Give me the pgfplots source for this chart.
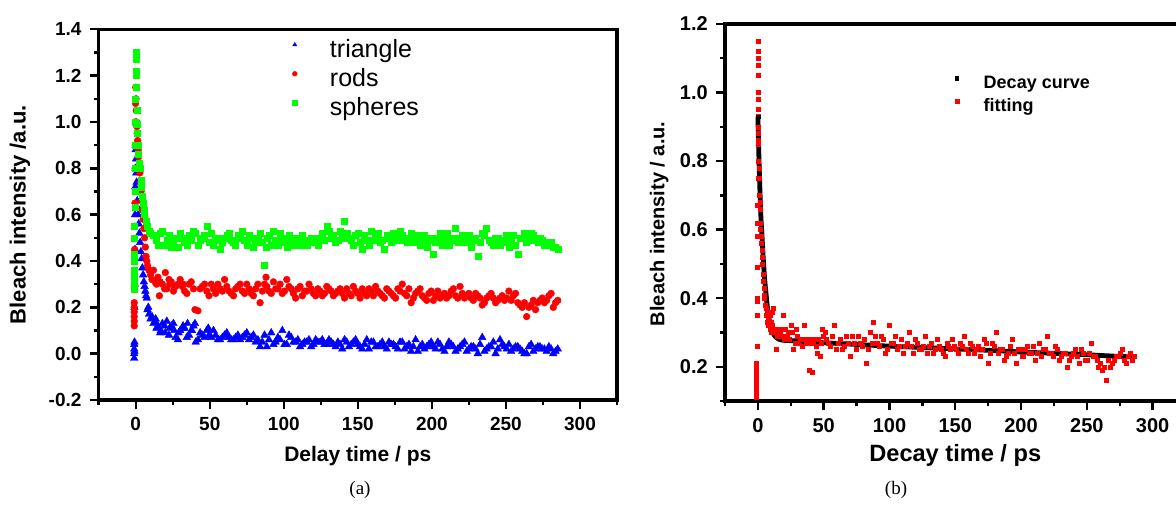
\documentclass[border=0pt]{standalone}
\usepackage{fontspec}
\setmainfont{Liberation Sans}
\newfontfamily\capfont{Liberation Serif}
\usepackage{pgfplots}
\pgfplotsset{compat=1.18}
\definecolor{pblue}{RGB}{0,0,255}
\definecolor{pred}{RGB}{255,0,0}
\definecolor{pgreen}{RGB}{0,255,0}

\pgfplotsset{
  every axis/.append style={line width=1.6pt},
  dots/.style={only marks, line width=0.2pt},
  panel/.style={
    scale only axis,
    anchor=south west,
    axis line style={line width=1.6pt},
    tick style={line width=1.2pt, black},
    tick align=outside,
    xtick pos=bottom, ytick pos=left,
    major tick length=4.5pt, minor tick length=2.5pt,
    xmin=-25, xmax=325,
    xtick={0,50,...,300},
    minor xtick={-25,25,75,...,325},
    /pgf/number format/assume math mode=true,
    yticklabel style={/pgf/number format/.cd, fixed, fixed zerofill, precision=1},
    legend cell align=left,
  },
}

\begin{document}
\begin{tikzpicture}
% ---------- (a) ----------
\begin{axis}[panel,
  at={(49.35pt,52pt)}, width=259.15pt, height=185.35pt,
  ymin=-0.2, ymax=1.4,
  ytick={-0.2,0,...,1.4},
  minor ytick={-0.1,0.1,...,1.3},
  ticklabel style={font=\bfseries\fontsize{9.5}{11}\selectfont},
  xlabel={Delay time / ps},
  ylabel={Bleach intensity /a.u.},
  xlabel style={at={(axis description cs:0.5,-0.151)}, anchor=center, font=\bfseries\fontsize{10.5}{12}\selectfont},
  ylabel style={at={(axis description cs:-0.152,0.5)}, anchor=center, font=\bfseries\fontsize{11}{12}\selectfont},
  legend style={draw=none, fill=none, at={(axis cs:103.5,1.364)}, anchor=north west,
    inner sep=0pt, column sep=0pt, row sep=3pt,
    nodes={inner sep=0pt, text height=9pt, text depth=2.5pt},
    font=\fontsize{12.5}{14}\selectfont},
  legend image code/.code={\draw[#1, mark size=1.2pt] plot coordinates {(0pt,3pt)}; \path (-2pt,0pt) (17.5pt,0pt);},
]
\addplot[dots, mark=triangle*, mark size=2.2pt, color=pblue] coordinates {
(-1,-0.02) (-1,0.0) (-1,0.02) (-1,0.04) (-0.8,0.05) (-0.8,0.01) (-0.9,0.2) (-0.7,0.3) (-0.5,0.45) (-0.4,0.6)
(-0.3,0.72) (-0.2,0.8) (-0.1,0.88) (0,0.9) (0.2,0.84) (0.4,0.78) (0.6,0.74) (0.8,0.7) (1,0.66) (1.3,0.63)
(1.6,0.6) (2,0.56) (2.5,0.52) (3,0.48) (3.5,0.44) (4,0.41) (4.5,0.37) (5,0.34) (5.5,0.31) (6,0.29)
(6.5,0.27) (7,0.25) (7.5,0.24) (8,0.19) (8.5,0.2) (9,0.17) (10,0.15) (11,0.16) (12,0.13) (13,0.14)
(14,0.11) (15,0.12) (17,0.10) (18,0.13) (20,0.09) (21,0.14) (23,0.11) (24,0.12) (26,0.10) (27,0.07)
(29,0.09) (30,0.10) (32,0.12) (33,0.11) (35,0.13) (36,0.08) (38,0.10) (39,0.12) (40,0.13) (42,0.06)
(45,0.08) (48,0.10) (49,0.11) (51,0.07) (54,0.08) (57,0.06) (60,0.08) (63,0.07) (66,0.06) (69,0.08)
(72,0.07) (75,0.09) (78,0.07) (81,0.05) (84,0.03) (87,0.08) (90,0.06) (93,0.04) (96,0.07) (99,0.10)
(102,0.04) (105,0.07) (108,0.05) (111,0.03) (114,0.05) (117,0.06) (120,0.04) (123,0.05) (126,0.06) (129,0.04)
(132,0.05) (135,0.03) (138,0.04) (141,0.06) (144,0.03) (147,0.05) (150,0.04) (153,0.02) (156,0.06) (159,0.05)
(162,0.03) (165,0.04) (168,0.03) (171,0.05) (174,0.04) (177,0.02) (180,0.05) (183,0.03) (186,0.01) (189,0.06)
(192,0.03) (195,0.02) (198,0.04) (201,0.03) (204,0.05) (207,0.02) (210,0.03) (213,0.04) (216,0.01) (219,0.03)
(222,0.05) (225,0.02) (228,0.03) (231,0.00) (234,0.07) (237,0.02) (240,0.03) (243,0.00) (246,0.06) (249,0.03)
(252,0.04) (255,0.02) (258,0.03) (261,0.01) (264,0.00) (267,0.04) (270,0.02) (273,0.03) (276,0.02) (279,0.03)
(282,0.00) (285,0.02)
(13.5,0.15) (16.5,0.09) (19.5,0.12) (22.5,0.08) (25.5,0.13) (28.5,0.06) (31.5,0.11) (34.5,0.07) (37.5,0.10) (40.5,0.05)
(43.5,0.09) (46.5,0.07) (49.5,0.08) (52.5,0.10) (55.5,0.06) (58.5,0.07) (61.5,0.09) (64.5,0.06) (67.5,0.07) (70.5,0.06)
(73.5,0.08) (76.5,0.06) (79.5,0.08) (82.5,0.06) (85.5,0.05) (88.5,0.03) (91.5,0.09) (94.5,0.05) (97.5,0.06) (100.5,0.04)
(103.5,0.08) (106.5,0.05) (109.5,0.06) (112.5,0.04) (115.5,0.05) (118.5,0.03) (121.5,0.06) (124.5,0.05) (127.5,0.04) (130.5,0.06)
(133.5,0.04) (136.5,0.05) (139.5,0.02) (142.5,0.05) (145.5,0.04) (148.5,0.06) (151.5,0.03) (154.5,0.04) (157.5,0.02) (160.5,0.05)
(163.5,0.03) (166.5,0.05) (169.5,0.02) (172.5,0.04) (175.5,0.03) (178.5,0.05) (181.5,0.02) (184.5,0.04) (187.5,0.03) (190.5,0.01)
(193.5,0.04) (196.5,0.03) (199.5,0.05) (202.5,0.02) (205.5,0.04) (208.5,0.01) (211.5,0.05) (214.5,0.03) (217.5,0.02) (220.5,0.04)
(223.5,0.01) (226.5,0.03) (229.5,0.02) (232.5,0.04) (235.5,0.01) (238.5,0.03) (241.5,0.05) (244.5,0.02) (247.5,0.04) (250.5,0.02)
(253.5,0.01) (256.5,0.03) (259.5,0.02) (262.5,0.00) (265.5,0.03) (268.5,0.01) (271.5,0.03) (274.5,0.02) (277.5,0.01) (280.5,0.02)
(283.5,0.01)
};
\addlegendentry{triangle}
\addplot[dots, mark=*, mark size=1.7pt, color=pred] coordinates {
(-1,0.12) (-1,0.14) (-1,0.16) (-1,0.18) (-1,0.20) (-1,0.22) (-0.8,0.30) (-0.7,0.45) (-0.6,0.55) (-0.5,0.65)
(-0.4,0.80) (-0.3,0.90) (-0.2,1.00) (-0.1,1.08) (0,1.15) (0.2,1.10) (0.4,1.05) (0.6,1.00) (0.8,0.98) (1,0.95)
(1.3,0.92) (1.6,0.88) (2,0.85) (2.4,0.80) (2.8,0.78) (3.2,0.74) (3.6,0.70) (4,0.66) (4.5,0.62) (5,0.58)
(5.5,0.54) (6,0.50) (6.5,0.46) (7,0.42) (7.5,0.40) (8,0.38) (9,0.36) (10,0.34) (11,0.32) (12,0.36)
(13,0.31) (14,0.30) (15,0.33) (16,0.25) (18,0.30) (20,0.35) (21,0.28) (23,0.30) (24,0.31) (26,0.29)
(27,0.29) (30,0.32) (32,0.30) (33,0.27) (36,0.30) (39,0.28) (40,0.19) (42,0.185) (45,0.29) (48,0.27)
(51,0.30) (54,0.26) (57,0.28) (60,0.32) (63,0.27) (66,0.25) (69,0.29) (72,0.27) (75,0.30) (78,0.26)
(81,0.28) (84,0.22) (87,0.30) (88,0.33) (90,0.27) (93,0.31) (96,0.28) (99,0.26) (102,0.32) (105,0.28)
(108,0.24) (111,0.29) (114,0.27) (117,0.30) (120,0.26) (123,0.28) (126,0.25) (129,0.29) (132,0.27) (135,0.26)
(138,0.28) (141,0.24) (144,0.26) (147,0.29) (150,0.26) (153,0.28) (156,0.25) (159,0.27) (162,0.29) (165,0.26)
(168,0.24) (171,0.27) (174,0.25) (177,0.28) (180,0.30) (183,0.25) (186,0.22) (189,0.26) (192,0.28) (195,0.24)
(198,0.26) (201,0.23) (204,0.27) (207,0.25) (210,0.24) (213,0.27) (216,0.25) (219,0.29) (222,0.24) (225,0.26)
(228,0.23) (231,0.25) (234,0.21) (237,0.24) (240,0.26) (243,0.22) (246,0.24) (249,0.23) (252,0.27) (255,0.25)
(258,0.22) (261,0.20) (264,0.16) (267,0.21) (270,0.19) (273,0.23) (276,0.22) (279,0.25) (282,0.20) (285,0.23)
(16.5,0.31) (19.5,0.28) (22.5,0.32) (25.5,0.27) (28.5,0.30) (31.5,0.29) (34.5,0.26) (37.5,0.31) (43.5,0.28) (46.5,0.30)
(49.5,0.25) (52.5,0.28) (55.5,0.30) (58.5,0.27) (61.5,0.29) (64.5,0.26) (67.5,0.28) (70.5,0.30) (73.5,0.26) (76.5,0.28)
(79.5,0.25) (82.5,0.30) (85.5,0.27) (88.5,0.29) (91.5,0.26) (94.5,0.28) (97.5,0.30) (100.5,0.27) (103.5,0.29) (106.5,0.26)
(109.5,0.28) (112.5,0.25) (115.5,0.27) (118.5,0.28) (121.5,0.25) (124.5,0.27) (127.5,0.26) (130.5,0.28) (133.5,0.25) (136.5,0.27)
(139.5,0.26) (142.5,0.28) (145.5,0.25) (148.5,0.27) (151.5,0.24) (154.5,0.26) (157.5,0.28) (160.5,0.25) (163.5,0.27) (166.5,0.25)
(169.5,0.28) (172.5,0.26) (175.5,0.24) (178.5,0.27) (181.5,0.26) (184.5,0.28) (187.5,0.24) (190.5,0.27) (193.5,0.25) (196.5,0.23)
(199.5,0.27) (202.5,0.25) (205.5,0.24) (208.5,0.26) (211.5,0.25) (214.5,0.28) (217.5,0.24) (220.5,0.26) (223.5,0.25) (226.5,0.24)
(229.5,0.26) (232.5,0.24) (235.5,0.22) (238.5,0.25) (241.5,0.24) (244.5,0.23) (247.5,0.25) (250.5,0.24) (253.5,0.23) (256.5,0.26)
(259.5,0.21) (262.5,0.22) (265.5,0.20) (268.5,0.23) (271.5,0.22) (274.5,0.24) (277.5,0.23) (280.5,0.26) (283.5,0.22)
};
\addlegendentry{rods}
\addplot[dots, mark=square*, mark size=1.5pt, color=pgreen] coordinates {
(-1,0.28) (-1,0.30) (-1,0.33) (-1,0.36) (-1,0.40) (-1,0.43) (-0.8,0.50) (-0.7,0.55) (-0.6,0.63) (-0.5,0.70)
(-0.4,0.80) (-0.3,0.90) (-0.2,1.00) (-0.1,1.10) (0,1.20) (0.1,1.30) (0.2,1.27) (0.3,1.22) (0.5,1.15) (0.7,1.05)
(1,0.99) (1.3,0.95) (1.6,0.90) (2,0.86) (2.5,0.82) (3,0.80) (3.5,0.75) (4,0.72) (4.5,0.68) (5,0.65)
(5.5,0.62) (6,0.60) (7,0.57) (8,0.55) (9,0.53) (10,0.52) (12,0.51) (15,0.47) (18,0.53) (21,0.49)
(24,0.46) (27,0.50) (30,0.52) (33,0.48) (36,0.51) (39,0.53) (42,0.47) (45,0.50) (48,0.55) (51,0.52)
(54,0.49) (57,0.45) (60,0.50) (63,0.52) (66,0.48) (69,0.51) (72,0.53) (75,0.47) (78,0.50) (81,0.48)
(84,0.52) (87,0.38) (88,0.46) (90,0.51) (93,0.53) (96,0.47) (99,0.50) (102,0.46) (105,0.48) (108,0.50)
(111,0.47) (114,0.49) (117,0.48) (120,0.50) (123,0.47) (126,0.52) (129,0.55) (132,0.50) (135,0.48) (138,0.53)
(141,0.57) (144,0.50) (147,0.47) (150,0.52) (153,0.45) (156,0.49) (159,0.53) (162,0.51) (165,0.48) (168,0.45)
(171,0.50) (174,0.52) (177,0.49) (180,0.51) (183,0.48) (186,0.52) (189,0.50) (192,0.47) (195,0.51) (198,0.49)
(201,0.43) (204,0.50) (207,0.47) (210,0.52) (213,0.49) (216,0.54) (219,0.50) (222,0.48) (225,0.51) (228,0.49)
(231,0.42) (234,0.52) (237,0.54) (240,0.48) (243,0.50) (246,0.47) (249,0.49) (252,0.46) (255,0.51) (258,0.43)
(261,0.50) (264,0.48) (267,0.52) (270,0.49) (273,0.50) (276,0.47) (279,0.48) (282,0.46) (285,0.45)
(13.5,0.49) (16.5,0.52) (19.5,0.47) (22.5,0.51) (25.5,0.49) (28.5,0.46) (31.5,0.50) (34.5,0.47) (37.5,0.49) (40.5,0.52)
(43.5,0.49) (46.5,0.51) (49.5,0.48) (52.5,0.47) (55.5,0.50) (58.5,0.48) (61.5,0.51) (64.5,0.49) (67.5,0.47) (70.5,0.50)
(73.5,0.49) (76.5,0.51) (79.5,0.46) (82.5,0.50) (85.5,0.48) (88.5,0.50) (91.5,0.47) (94.5,0.49) (97.5,0.52) (100.5,0.48)
(103.5,0.51) (106.5,0.47) (109.5,0.49) (112.5,0.51) (115.5,0.47) (118.5,0.50) (121.5,0.48) (124.5,0.50) (127.5,0.49) (130.5,0.53)
(133.5,0.51) (136.5,0.49) (139.5,0.50) (142.5,0.52) (145.5,0.49) (148.5,0.51) (151.5,0.48) (154.5,0.51) (157.5,0.47) (160.5,0.49)
(163.5,0.52) (166.5,0.49) (169.5,0.51) (172.5,0.48) (175.5,0.50) (178.5,0.53) (181.5,0.49) (184.5,0.50) (187.5,0.48) (190.5,0.51)
(193.5,0.49) (196.5,0.46) (199.5,0.50) (202.5,0.48) (205.5,0.52) (208.5,0.49) (211.5,0.47) (214.5,0.50) (217.5,0.48) (220.5,0.51)
(223.5,0.49) (226.5,0.46) (229.5,0.50) (232.5,0.48) (235.5,0.51) (238.5,0.49) (241.5,0.47) (244.5,0.50) (247.5,0.48) (250.5,0.51)
(253.5,0.49) (256.5,0.47) (259.5,0.50) (262.5,0.52) (265.5,0.49) (268.5,0.51) (271.5,0.48) (274.5,0.49) (277.5,0.47) (280.5,0.48)
(283.5,0.46)
};
\addlegendentry{spheres}
\end{axis}
% ---------- (b) ----------
\begin{axis}[panel,
  at={(362.5pt,51.5pt)}, width=230.25pt, height=188.5pt,
  ymin=0.1, ymax=1.2,
  ytick={0.2,0.4,...,1.2},
  minor ytick={0.1,0.3,...,1.1},
  ticklabel style={font=\bfseries\fontsize{10}{12}\selectfont},
  xlabel={Decay time / ps},
  ylabel={Bleach intensity / a.u.},
  xlabel style={at={(axis description cs:0.5,-0.143)}, anchor=center, font=\bfseries\fontsize{11.8}{13}\selectfont},
  ylabel style={at={(axis description cs:-0.143,0.47)}, anchor=center, font=\bfseries\fontsize{10}{12}\selectfont},
  reverse legend,
  legend style={draw=none, fill=none, at={(axis cs:145.8,1.058)}, anchor=north west,
    inner sep=0pt, column sep=0pt, row sep=2.5pt,
    nodes={inner sep=0pt, text height=7pt, text depth=2pt},
    font=\bfseries\fontsize{9}{11}\selectfont},
  legend image code/.code={\draw[#1] plot coordinates {(0pt,2.5pt)}; \path (-1.5pt,0pt) (12.3pt,0pt);},
]
\addplot[dots, mark=square*, mark size=1pt, color=pred] coordinates {
(-1,0.11) (-1,0.12) (-1,0.13) (-1,0.14) (-1,0.15) (-1,0.16) (-1,0.17) (-1,0.18) (-1,0.19) (-1,0.20)
(-1,0.21) (-0.5,0.26) (-0.5,0.35) (-0.5,0.39) (-0.5,0.40) (-0.5,0.49) (-0.5,0.58) (-0.5,0.62) (-0.5,0.67) (0,0.75)
(0,0.80) (0,0.85) (0,0.90) (0,0.95) (0,1.00) (0,1.05) (0,1.08) (0,1.10) (0,1.12) (0,1.15)
(0.3,0.98) (0.3,0.93) (0.3,0.88) (0.3,0.86) (0.8,0.78) (0.8,0.75) (0.8,0.70) (1.5,0.68) (1.5,0.66) (2,0.62)
(2,0.60) (2.5,0.58) (2.5,0.56) (3,0.54) (3,0.52) (3.5,0.50) (4,0.47) (4,0.45) (4.5,0.43) (5,0.41)
(5,0.40) (5.5,0.38) (6,0.37) (6,0.35) (7,0.36) (7,0.33) (8,0.34) (8,0.32) (9,0.35) (9,0.31)
(10,0.33) (10,0.30) (11,0.36) (11,0.32) (12,0.31) (12,0.37) (13,0.30) (14,0.25) (15,0.31) (15,0.29)
(17,0.30) (19,0.35) (19,0.29) (21,0.31) (23,0.30) (25,0.32) (27,0.25) (29,0.31) (31,0.27) (33,0.28)
(35,0.32) (37,0.27) (39,0.19) (41,0.185) (43,0.28) (45,0.24) (47,0.23) (49,0.31) (51,0.30) (52,0.28)
(55,0.26) (58,0.32) (61,0.27) (64,0.25) (67,0.29) (70,0.23) (73,0.27) (76,0.29) (79,0.26) (82,0.21)
(85,0.30) (88,0.33) (91,0.27) (94,0.29) (97,0.24) (100,0.32) (103,0.27) (106,0.25) (109,0.28) (112,0.26)
(115,0.30) (118,0.24) (121,0.27) (124,0.25) (127,0.29) (130,0.26) (133,0.24) (136,0.28) (139,0.25) (142,0.23)
(145,0.26) (148,0.28) (151,0.25) (154,0.27) (157,0.29) (160,0.24) (163,0.26) (166,0.25) (169,0.23) (172,0.28)
(175,0.21) (178,0.27) (181,0.30) (184,0.25) (187,0.22) (190,0.24) (193,0.28) (196,0.21) (199,0.25) (202,0.23)
(205,0.26) (208,0.24) (211,0.22) (214,0.27) (217,0.25) (220,0.29) (223,0.24) (226,0.26) (229,0.22) (232,0.24)
(235,0.20) (238,0.23) (241,0.25) (244,0.21) (247,0.24) (250,0.22) (253,0.27) (256,0.23) (259,0.20) (262,0.19)
(265,0.16) (268,0.20) (271,0.22) (274,0.23) (277,0.25) (280,0.21) (283,0.24) (286,0.23)
(16,0.29) (18,0.31) (20,0.28) (22,0.29) (24,0.28) (26,0.30) (28,0.27) (30,0.29) (32,0.28) (34,0.26)
(36,0.28) (38,0.27) (40,0.28) (42,0.27) (44,0.26) (46,0.28) (48,0.27) (50,0.29)
(53.5,0.27) (56.5,0.29) (59.5,0.25) (62.5,0.28) (65.5,0.26) (68.5,0.27) (71.5,0.29) (74.5,0.25) (77.5,0.27) (80.5,0.28)
(83.5,0.25) (86.5,0.27) (89.5,0.29) (92.5,0.26) (95.5,0.28) (98.5,0.25) (101.5,0.27) (104.5,0.29) (107.5,0.26) (110.5,0.24)
(113.5,0.27) (116.5,0.26) (119.5,0.28) (122.5,0.25) (125.5,0.26) (128.5,0.24) (131.5,0.27) (134.5,0.25) (137.5,0.26) (140.5,0.24)
(143.5,0.27) (146.5,0.25) (149.5,0.26) (152.5,0.24) (155.5,0.26) (158.5,0.25) (161.5,0.27) (164.5,0.24) (167.5,0.26) (170.5,0.25)
(173.5,0.27) (176.5,0.24) (179.5,0.26) (182.5,0.24) (185.5,0.25) (188.5,0.23) (191.5,0.26) (194.5,0.24) (197.5,0.25) (200.5,0.23)
(203.5,0.25) (206.5,0.24) (209.5,0.26) (212.5,0.24) (215.5,0.23) (218.5,0.25) (221.5,0.24) (224.5,0.23) (227.5,0.25) (230.5,0.23)
(233.5,0.24) (236.5,0.22) (239.5,0.24) (242.5,0.23) (245.5,0.25) (248.5,0.22) (251.5,0.24) (254.5,0.23) (257.5,0.22) (260.5,0.21)
(263.5,0.20) (266.5,0.22) (269.5,0.21) (272.5,0.23) (275.5,0.24) (278.5,0.22) (281.5,0.23) (284.5,0.22)
};
\addlegendentry{fitting}
\addplot[black, line width=2.4pt, mark=square*, mark size=0.9pt, mark repeat=1000, mark options={line width=0.2pt}] coordinates {
(0,0.93) (0.5,0.85) (1,0.78) (1.5,0.72) (2,0.66) (2.5,0.62) (3,0.59) (4,0.52) (5,0.46) (6,0.42)
(7,0.38) (8,0.35) (9,0.33) (10,0.315) (11,0.303) (12,0.295) (13,0.289) (14,0.285) (16,0.28) (18,0.278)
(20,0.277) (30,0.275) (50,0.27) (75,0.265) (100,0.26) (125,0.256) (150,0.252) (175,0.248) (200,0.243) (225,0.239)
(250,0.235) (270,0.231) (285,0.229)
};
\addlegendentry{Decay curve}
\end{axis}
\node[font=\capfont\fontsize{9.5}{11}\selectfont] at (180pt,7pt) {(a)};
\node[font=\capfont\fontsize{9.5}{11}\selectfont] at (448pt,7pt) {(b)};
\pgfresetboundingbox
\path[use as bounding box] (0pt,0pt) rectangle (588pt,252pt);
\end{tikzpicture}
\end{document}
